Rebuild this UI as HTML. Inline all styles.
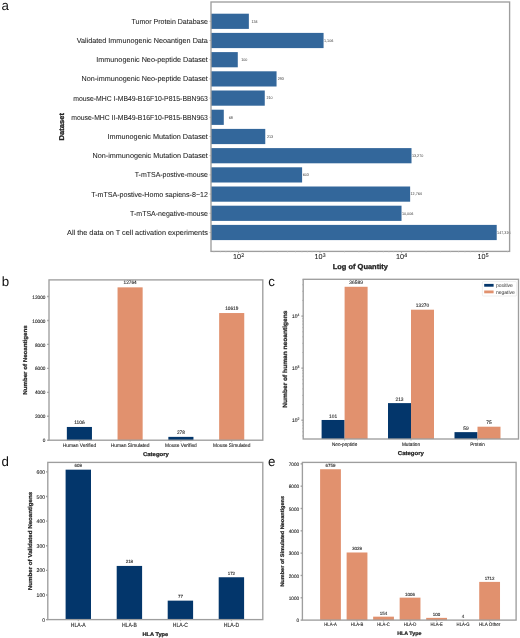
<!DOCTYPE html>
<html><head><meta charset="utf-8"><style>
html,body{margin:0;padding:0;background:#fff;}
body{width:520px;height:638px;overflow:hidden;}
svg{display:block;font-family:"Liberation Sans",sans-serif;text-rendering:geometricPrecision;will-change:transform;filter:blur(0.35px);}
</style></head><body>
<svg width="520" height="638" viewBox="0 0 520 638">
<rect x="0" y="0" width="520" height="638" fill="#fff"/>
<text x="1.5" y="10.2" font-size="13.3" fill="#111">a</text>
<text x="1.8" y="286.0" font-size="13.3" fill="#111">b</text>
<text x="268.3" y="286.3" font-size="13.3" fill="#111">c</text>
<text x="1.5" y="465.6" font-size="13.3" fill="#111">d</text>
<text x="268.0" y="465.7" font-size="13.3" fill="#111">e</text>
<rect x="211.00" y="13.70" width="37.86" height="15.20" fill="#33679b" />
<text x="207.90" y="23.70" font-size="7.25" font-weight="normal" text-anchor="end" textLength="76.33" lengthAdjust="spacingAndGlyphs" fill="#222" stroke="#222" stroke-width="0.06">Tumor Protein Database</text>
<line x1="209.30" y1="21.30" x2="211.00" y2="21.30" stroke="#b5b5b5" stroke-width="0.8"/>
<text x="251.41" y="22.50" font-size="3.90" font-weight="normal" text-anchor="start" textLength="6.20" lengthAdjust="spacingAndGlyphs" fill="#3a3a3a" stroke="#3a3a3a" stroke-width="0">134</text>
<rect x="211.00" y="32.90" width="112.57" height="15.20" fill="#33679b" />
<text x="207.90" y="42.90" font-size="7.25" font-weight="normal" text-anchor="end" textLength="131.11" lengthAdjust="spacingAndGlyphs" fill="#222" stroke="#222" stroke-width="0.06">Validated Immunogenic Neoantigen Data</text>
<line x1="209.30" y1="40.50" x2="211.00" y2="40.50" stroke="#b5b5b5" stroke-width="0.8"/>
<text x="323.97" y="41.70" font-size="3.90" font-weight="normal" text-anchor="start" textLength="9.30" lengthAdjust="spacingAndGlyphs" fill="#3a3a3a" stroke="#3a3a3a" stroke-width="0">1,106</text>
<rect x="211.00" y="52.10" width="26.78" height="15.20" fill="#33679b" />
<text x="207.90" y="62.10" font-size="7.25" font-weight="normal" text-anchor="end" textLength="111.59" lengthAdjust="spacingAndGlyphs" fill="#222" stroke="#222" stroke-width="0.06">Immunogenic Neo-peptide Dataset</text>
<line x1="209.30" y1="59.70" x2="211.00" y2="59.70" stroke="#b5b5b5" stroke-width="0.8"/>
<text x="241.22" y="60.90" font-size="3.90" font-weight="normal" text-anchor="start" textLength="6.20" lengthAdjust="spacingAndGlyphs" fill="#3a3a3a" stroke="#3a3a3a" stroke-width="0">100</text>
<rect x="211.00" y="71.30" width="65.55" height="15.20" fill="#33679b" />
<text x="207.90" y="81.30" font-size="7.25" font-weight="normal" text-anchor="end" textLength="126.45" lengthAdjust="spacingAndGlyphs" fill="#222" stroke="#222" stroke-width="0.06">Non-immunogenic Neo-peptide Dataset</text>
<line x1="209.30" y1="78.90" x2="211.00" y2="78.90" stroke="#b5b5b5" stroke-width="0.8"/>
<text x="277.74" y="80.10" font-size="3.90" font-weight="normal" text-anchor="start" textLength="6.20" lengthAdjust="spacingAndGlyphs" fill="#3a3a3a" stroke="#3a3a3a" stroke-width="0">293</text>
<rect x="211.00" y="90.50" width="53.76" height="15.20" fill="#33679b" />
<text x="207.90" y="100.50" font-size="7.25" font-weight="normal" text-anchor="end" textLength="134.72" lengthAdjust="spacingAndGlyphs" fill="#222" stroke="#222" stroke-width="0.06">mouse-MHC I-MB49-B16F10-P815-BBN963</text>
<line x1="209.30" y1="98.10" x2="211.00" y2="98.10" stroke="#b5b5b5" stroke-width="0.8"/>
<text x="266.41" y="99.30" font-size="3.90" font-weight="normal" text-anchor="start" textLength="6.20" lengthAdjust="spacingAndGlyphs" fill="#3a3a3a" stroke="#3a3a3a" stroke-width="0">210</text>
<rect x="211.00" y="109.70" width="12.79" height="15.20" fill="#33679b" />
<text x="207.90" y="119.70" font-size="7.25" font-weight="normal" text-anchor="end" textLength="136.60" lengthAdjust="spacingAndGlyphs" fill="#222" stroke="#222" stroke-width="0.06">mouse-MHC II-MB49-B16F10-P815-BBN963</text>
<line x1="209.30" y1="117.30" x2="211.00" y2="117.30" stroke="#b5b5b5" stroke-width="0.8"/>
<text x="228.79" y="118.50" font-size="3.90" font-weight="normal" text-anchor="start" textLength="4.14" lengthAdjust="spacingAndGlyphs" fill="#3a3a3a" stroke="#3a3a3a" stroke-width="0">68</text>
<rect x="211.00" y="128.90" width="54.26" height="15.20" fill="#33679b" />
<text x="207.90" y="138.90" font-size="7.25" font-weight="normal" text-anchor="end" textLength="100.50" lengthAdjust="spacingAndGlyphs" fill="#222" stroke="#222" stroke-width="0.06">Immunogenic Mutation Dataset</text>
<line x1="209.30" y1="136.50" x2="211.00" y2="136.50" stroke="#b5b5b5" stroke-width="0.8"/>
<text x="266.89" y="137.70" font-size="3.90" font-weight="normal" text-anchor="start" textLength="6.20" lengthAdjust="spacingAndGlyphs" fill="#3a3a3a" stroke="#3a3a3a" stroke-width="0">213</text>
<rect x="211.00" y="148.10" width="200.51" height="15.20" fill="#33679b" />
<text x="207.90" y="158.10" font-size="7.25" font-weight="normal" text-anchor="end" textLength="115.37" lengthAdjust="spacingAndGlyphs" fill="#222" stroke="#222" stroke-width="0.06">Non-immunogenic Mutation Dataset</text>
<line x1="209.30" y1="155.70" x2="211.00" y2="155.70" stroke="#b5b5b5" stroke-width="0.8"/>
<text x="411.91" y="156.90" font-size="3.90" font-weight="normal" text-anchor="start" textLength="11.37" lengthAdjust="spacingAndGlyphs" fill="#3a3a3a" stroke="#3a3a3a" stroke-width="0">13,270</text>
<rect x="211.00" y="167.30" width="91.10" height="15.20" fill="#33679b" />
<text x="207.90" y="177.30" font-size="7.25" font-weight="normal" text-anchor="end" textLength="73.15" lengthAdjust="spacingAndGlyphs" fill="#222" stroke="#222" stroke-width="0.06">T-mTSA-postive-mouse</text>
<line x1="209.30" y1="174.90" x2="211.00" y2="174.90" stroke="#b5b5b5" stroke-width="0.8"/>
<text x="302.68" y="176.10" font-size="3.90" font-weight="normal" text-anchor="start" textLength="6.20" lengthAdjust="spacingAndGlyphs" fill="#3a3a3a" stroke="#3a3a3a" stroke-width="0">603</text>
<rect x="211.00" y="186.50" width="199.14" height="15.20" fill="#33679b" />
<text x="207.90" y="196.50" font-size="7.25" font-weight="normal" text-anchor="end" textLength="116.63" lengthAdjust="spacingAndGlyphs" fill="#222" stroke="#222" stroke-width="0.06">T-mTSA-postive-Homo sapiens-8~12</text>
<line x1="209.30" y1="194.10" x2="211.00" y2="194.10" stroke="#b5b5b5" stroke-width="0.8"/>
<text x="410.54" y="195.30" font-size="3.90" font-weight="normal" text-anchor="start" textLength="11.37" lengthAdjust="spacingAndGlyphs" fill="#3a3a3a" stroke="#3a3a3a" stroke-width="0">12,764</text>
<rect x="211.00" y="205.70" width="190.52" height="15.20" fill="#33679b" />
<text x="207.90" y="215.70" font-size="7.25" font-weight="normal" text-anchor="end" textLength="77.79" lengthAdjust="spacingAndGlyphs" fill="#222" stroke="#222" stroke-width="0.06">T-mTSA-negative-mouse</text>
<line x1="209.30" y1="213.30" x2="211.00" y2="213.30" stroke="#b5b5b5" stroke-width="0.8"/>
<text x="401.92" y="214.50" font-size="3.90" font-weight="normal" text-anchor="start" textLength="11.37" lengthAdjust="spacingAndGlyphs" fill="#3a3a3a" stroke="#3a3a3a" stroke-width="0">10,006</text>
<rect x="211.00" y="224.90" width="285.71" height="15.20" fill="#33679b" />
<text x="207.90" y="234.90" font-size="7.25" font-weight="normal" text-anchor="end" textLength="140.89" lengthAdjust="spacingAndGlyphs" fill="#222" stroke="#222" stroke-width="0.06">All the data on T cell activation experiments</text>
<line x1="209.30" y1="232.50" x2="211.00" y2="232.50" stroke="#b5b5b5" stroke-width="0.8"/>
<text x="497.11" y="233.70" font-size="3.90" font-weight="normal" text-anchor="start" textLength="13.44" lengthAdjust="spacingAndGlyphs" fill="#3a3a3a" stroke="#3a3a3a" stroke-width="0">147,326</text>
<rect x="211.00" y="2.00" width="298.60" height="249.40" fill="none" stroke="#9e9e9e" stroke-width="1.35"/>
<line x1="238.50" y1="251.40" x2="238.50" y2="253.20" stroke="#9e9e9e" stroke-width="0.8"/>
<text x="233.04" y="258.80" font-size="7.25" font-weight="normal" text-anchor="start" textLength="8.09" lengthAdjust="spacingAndGlyphs" fill="#222" stroke="#222" stroke-width="0.06">10</text>
<text x="241.13" y="256.51" font-size="5.34" font-weight="normal" text-anchor="start" textLength="2.83" lengthAdjust="spacingAndGlyphs" fill="#222" stroke="#222" stroke-width="0.1">2</text>
<line x1="320.00" y1="251.40" x2="320.00" y2="253.20" stroke="#9e9e9e" stroke-width="0.8"/>
<text x="314.54" y="258.80" font-size="7.25" font-weight="normal" text-anchor="start" textLength="8.09" lengthAdjust="spacingAndGlyphs" fill="#222" stroke="#222" stroke-width="0.06">10</text>
<text x="322.63" y="256.51" font-size="5.34" font-weight="normal" text-anchor="start" textLength="2.83" lengthAdjust="spacingAndGlyphs" fill="#222" stroke="#222" stroke-width="0.1">3</text>
<line x1="401.50" y1="251.40" x2="401.50" y2="253.20" stroke="#9e9e9e" stroke-width="0.8"/>
<text x="396.04" y="258.80" font-size="7.25" font-weight="normal" text-anchor="start" textLength="8.09" lengthAdjust="spacingAndGlyphs" fill="#222" stroke="#222" stroke-width="0.06">10</text>
<text x="404.13" y="256.51" font-size="5.34" font-weight="normal" text-anchor="start" textLength="2.83" lengthAdjust="spacingAndGlyphs" fill="#222" stroke="#222" stroke-width="0.1">4</text>
<line x1="483.00" y1="251.40" x2="483.00" y2="253.20" stroke="#9e9e9e" stroke-width="0.8"/>
<text x="477.54" y="258.80" font-size="7.25" font-weight="normal" text-anchor="start" textLength="8.09" lengthAdjust="spacingAndGlyphs" fill="#222" stroke="#222" stroke-width="0.06">10</text>
<text x="485.63" y="256.51" font-size="5.34" font-weight="normal" text-anchor="start" textLength="2.83" lengthAdjust="spacingAndGlyphs" fill="#222" stroke="#222" stroke-width="0.1">5</text>
<line x1="213.97" y1="251.40" x2="213.97" y2="252.60" stroke="#cfcfcf" stroke-width="0.5"/>
<line x1="220.42" y1="251.40" x2="220.42" y2="252.60" stroke="#cfcfcf" stroke-width="0.5"/>
<line x1="225.88" y1="251.40" x2="225.88" y2="252.60" stroke="#cfcfcf" stroke-width="0.5"/>
<line x1="230.60" y1="251.40" x2="230.60" y2="252.60" stroke="#cfcfcf" stroke-width="0.5"/>
<line x1="234.77" y1="251.40" x2="234.77" y2="252.60" stroke="#cfcfcf" stroke-width="0.5"/>
<line x1="263.03" y1="251.40" x2="263.03" y2="252.60" stroke="#cfcfcf" stroke-width="0.5"/>
<line x1="277.39" y1="251.40" x2="277.39" y2="252.60" stroke="#cfcfcf" stroke-width="0.5"/>
<line x1="287.57" y1="251.40" x2="287.57" y2="252.60" stroke="#cfcfcf" stroke-width="0.5"/>
<line x1="295.47" y1="251.40" x2="295.47" y2="252.60" stroke="#cfcfcf" stroke-width="0.5"/>
<line x1="301.92" y1="251.40" x2="301.92" y2="252.60" stroke="#cfcfcf" stroke-width="0.5"/>
<line x1="307.38" y1="251.40" x2="307.38" y2="252.60" stroke="#cfcfcf" stroke-width="0.5"/>
<line x1="312.10" y1="251.40" x2="312.10" y2="252.60" stroke="#cfcfcf" stroke-width="0.5"/>
<line x1="316.27" y1="251.40" x2="316.27" y2="252.60" stroke="#cfcfcf" stroke-width="0.5"/>
<line x1="344.53" y1="251.40" x2="344.53" y2="252.60" stroke="#cfcfcf" stroke-width="0.5"/>
<line x1="358.89" y1="251.40" x2="358.89" y2="252.60" stroke="#cfcfcf" stroke-width="0.5"/>
<line x1="369.07" y1="251.40" x2="369.07" y2="252.60" stroke="#cfcfcf" stroke-width="0.5"/>
<line x1="376.97" y1="251.40" x2="376.97" y2="252.60" stroke="#cfcfcf" stroke-width="0.5"/>
<line x1="383.42" y1="251.40" x2="383.42" y2="252.60" stroke="#cfcfcf" stroke-width="0.5"/>
<line x1="388.88" y1="251.40" x2="388.88" y2="252.60" stroke="#cfcfcf" stroke-width="0.5"/>
<line x1="393.60" y1="251.40" x2="393.60" y2="252.60" stroke="#cfcfcf" stroke-width="0.5"/>
<line x1="397.77" y1="251.40" x2="397.77" y2="252.60" stroke="#cfcfcf" stroke-width="0.5"/>
<line x1="426.03" y1="251.40" x2="426.03" y2="252.60" stroke="#cfcfcf" stroke-width="0.5"/>
<line x1="440.39" y1="251.40" x2="440.39" y2="252.60" stroke="#cfcfcf" stroke-width="0.5"/>
<line x1="450.57" y1="251.40" x2="450.57" y2="252.60" stroke="#cfcfcf" stroke-width="0.5"/>
<line x1="458.47" y1="251.40" x2="458.47" y2="252.60" stroke="#cfcfcf" stroke-width="0.5"/>
<line x1="464.92" y1="251.40" x2="464.92" y2="252.60" stroke="#cfcfcf" stroke-width="0.5"/>
<line x1="470.38" y1="251.40" x2="470.38" y2="252.60" stroke="#cfcfcf" stroke-width="0.5"/>
<line x1="475.10" y1="251.40" x2="475.10" y2="252.60" stroke="#cfcfcf" stroke-width="0.5"/>
<line x1="479.27" y1="251.40" x2="479.27" y2="252.60" stroke="#cfcfcf" stroke-width="0.5"/>
<line x1="507.53" y1="251.40" x2="507.53" y2="252.60" stroke="#cfcfcf" stroke-width="0.5"/>
<text x="360.30" y="268.50" font-size="7.18" font-weight="bold" text-anchor="middle" textLength="55.17" lengthAdjust="spacingAndGlyphs" fill="#222" stroke="#222" stroke-width="0.3">Log of Quantity</text>
<text x="64.10" y="126.70" font-size="7.07" font-weight="bold" text-anchor="middle" textLength="27.34" lengthAdjust="spacingAndGlyphs" fill="#222" stroke="#222" stroke-width="0.3" transform="rotate(-90 64.10 126.70)">Dataset</text>
<rect x="66.85" y="426.96" width="25.10" height="13.24" fill="#03366b" />
<text x="79.40" y="423.86" font-size="4.94" font-weight="normal" text-anchor="middle" textLength="10.49" lengthAdjust="spacingAndGlyphs" fill="#222" stroke="#222" stroke-width="0.1">1106</text>
<line x1="79.40" y1="440.20" x2="79.40" y2="441.70" stroke="#9e9e9e" stroke-width="0.8"/>
<text x="79.40" y="446.70" font-size="5.20" font-weight="normal" text-anchor="middle" textLength="33.41" lengthAdjust="spacingAndGlyphs" fill="#222" stroke="#222" stroke-width="0.1">Human Verified</text>
<rect x="117.55" y="287.35" width="25.10" height="152.85" fill="#e1916e" />
<text x="130.10" y="284.25" font-size="4.94" font-weight="normal" text-anchor="middle" textLength="13.11" lengthAdjust="spacingAndGlyphs" fill="#222" stroke="#222" stroke-width="0.1">12764</text>
<line x1="130.10" y1="440.20" x2="130.10" y2="441.70" stroke="#9e9e9e" stroke-width="0.8"/>
<text x="130.10" y="446.70" font-size="5.20" font-weight="normal" text-anchor="middle" textLength="38.87" lengthAdjust="spacingAndGlyphs" fill="#222" stroke="#222" stroke-width="0.1">Human Simulated</text>
<rect x="168.35" y="436.87" width="25.10" height="3.33" fill="#03366b" />
<text x="180.90" y="433.77" font-size="4.94" font-weight="normal" text-anchor="middle" textLength="7.86" lengthAdjust="spacingAndGlyphs" fill="#222" stroke="#222" stroke-width="0.1">278</text>
<line x1="180.90" y1="440.20" x2="180.90" y2="441.70" stroke="#9e9e9e" stroke-width="0.8"/>
<text x="180.90" y="446.70" font-size="5.20" font-weight="normal" text-anchor="middle" textLength="31.84" lengthAdjust="spacingAndGlyphs" fill="#222" stroke="#222" stroke-width="0.1">Mouse Verified</text>
<rect x="219.15" y="313.04" width="25.10" height="127.16" fill="#e1916e" />
<text x="231.70" y="309.94" font-size="4.94" font-weight="normal" text-anchor="middle" textLength="13.11" lengthAdjust="spacingAndGlyphs" fill="#222" stroke="#222" stroke-width="0.1">10619</text>
<line x1="231.70" y1="440.20" x2="231.70" y2="441.70" stroke="#9e9e9e" stroke-width="0.8"/>
<text x="231.70" y="446.70" font-size="5.20" font-weight="normal" text-anchor="middle" textLength="37.31" lengthAdjust="spacingAndGlyphs" fill="#222" stroke="#222" stroke-width="0.1">Mouse Simulated</text>
<rect x="49.00" y="279.90" width="213.80" height="160.30" fill="none" stroke="#9e9e9e" stroke-width="1.35"/>
<line x1="47.20" y1="440.20" x2="49.00" y2="440.20" stroke="#9e9e9e" stroke-width="1.35"/>
<text x="45.40" y="442.30" font-size="4.94" font-weight="normal" text-anchor="end" textLength="2.62" lengthAdjust="spacingAndGlyphs" fill="#222" stroke="#222" stroke-width="0.1">0</text>
<line x1="47.20" y1="416.25" x2="49.00" y2="416.25" stroke="#9e9e9e" stroke-width="1.35"/>
<text x="45.40" y="418.35" font-size="4.94" font-weight="normal" text-anchor="end" textLength="10.49" lengthAdjust="spacingAndGlyphs" fill="#222" stroke="#222" stroke-width="0.1">2000</text>
<line x1="47.20" y1="392.30" x2="49.00" y2="392.30" stroke="#9e9e9e" stroke-width="1.35"/>
<text x="45.40" y="394.40" font-size="4.94" font-weight="normal" text-anchor="end" textLength="10.49" lengthAdjust="spacingAndGlyphs" fill="#222" stroke="#222" stroke-width="0.1">4000</text>
<line x1="47.20" y1="368.35" x2="49.00" y2="368.35" stroke="#9e9e9e" stroke-width="1.35"/>
<text x="45.40" y="370.45" font-size="4.94" font-weight="normal" text-anchor="end" textLength="10.49" lengthAdjust="spacingAndGlyphs" fill="#222" stroke="#222" stroke-width="0.1">6000</text>
<line x1="47.20" y1="344.40" x2="49.00" y2="344.40" stroke="#9e9e9e" stroke-width="1.35"/>
<text x="45.40" y="346.50" font-size="4.94" font-weight="normal" text-anchor="end" textLength="10.49" lengthAdjust="spacingAndGlyphs" fill="#222" stroke="#222" stroke-width="0.1">8000</text>
<line x1="47.20" y1="320.45" x2="49.00" y2="320.45" stroke="#9e9e9e" stroke-width="1.35"/>
<text x="45.40" y="322.55" font-size="4.94" font-weight="normal" text-anchor="end" textLength="13.11" lengthAdjust="spacingAndGlyphs" fill="#222" stroke="#222" stroke-width="0.1">10000</text>
<line x1="47.20" y1="296.50" x2="49.00" y2="296.50" stroke="#9e9e9e" stroke-width="1.35"/>
<text x="45.40" y="298.60" font-size="4.94" font-weight="normal" text-anchor="end" textLength="13.11" lengthAdjust="spacingAndGlyphs" fill="#222" stroke="#222" stroke-width="0.1">12000</text>
<text x="155.90" y="456.00" font-size="5.53" font-weight="bold" text-anchor="middle" textLength="25.72" lengthAdjust="spacingAndGlyphs" fill="#222" stroke="#222" stroke-width="0.22">Category</text>
<text x="26.70" y="360.05" font-size="5.70" font-weight="bold" text-anchor="middle" textLength="69.45" lengthAdjust="spacingAndGlyphs" fill="#222" stroke="#222" stroke-width="0.22" transform="rotate(-90 26.70 360.05)">Number of Neoantigens</text>
<rect x="321.60" y="419.98" width="23.00" height="19.02" fill="#03366b" />
<rect x="344.60" y="286.78" width="23.00" height="152.22" fill="#e1916e" />
<text x="333.10" y="417.68" font-size="5.09" font-weight="normal" text-anchor="middle" textLength="8.09" lengthAdjust="spacingAndGlyphs" fill="#222" stroke="#222" stroke-width="0.1">101</text>
<text x="356.10" y="284.48" font-size="5.09" font-weight="normal" text-anchor="middle" textLength="13.49" lengthAdjust="spacingAndGlyphs" fill="#222" stroke="#222" stroke-width="0.1">36589</text>
<line x1="344.60" y1="439.00" x2="344.60" y2="440.50" stroke="#9e9e9e" stroke-width="0.8"/>
<text x="344.60" y="446.10" font-size="4.92" font-weight="normal" text-anchor="middle" textLength="25.25" lengthAdjust="spacingAndGlyphs" fill="#222" stroke="#222" stroke-width="0.1">Neo-peptide</text>
<rect x="388.00" y="403.11" width="23.00" height="35.89" fill="#03366b" />
<rect x="411.00" y="309.70" width="23.00" height="129.30" fill="#e1916e" />
<text x="399.50" y="400.81" font-size="5.09" font-weight="normal" text-anchor="middle" textLength="8.09" lengthAdjust="spacingAndGlyphs" fill="#222" stroke="#222" stroke-width="0.1">213</text>
<text x="422.50" y="307.40" font-size="5.09" font-weight="normal" text-anchor="middle" textLength="13.49" lengthAdjust="spacingAndGlyphs" fill="#222" stroke="#222" stroke-width="0.1">13270</text>
<line x1="411.00" y1="439.00" x2="411.00" y2="440.50" stroke="#9e9e9e" stroke-width="0.8"/>
<text x="411.00" y="446.10" font-size="4.92" font-weight="normal" text-anchor="middle" textLength="18.11" lengthAdjust="spacingAndGlyphs" fill="#222" stroke="#222" stroke-width="0.1">Mutation</text>
<rect x="454.50" y="432.13" width="23.00" height="6.87" fill="#03366b" />
<rect x="477.50" y="426.70" width="23.00" height="12.30" fill="#e1916e" />
<text x="466.00" y="429.83" font-size="5.09" font-weight="normal" text-anchor="middle" textLength="5.40" lengthAdjust="spacingAndGlyphs" fill="#222" stroke="#222" stroke-width="0.1">59</text>
<text x="489.00" y="424.40" font-size="5.09" font-weight="normal" text-anchor="middle" textLength="5.40" lengthAdjust="spacingAndGlyphs" fill="#222" stroke="#222" stroke-width="0.1">75</text>
<line x1="477.50" y1="439.00" x2="477.50" y2="440.50" stroke="#9e9e9e" stroke-width="0.8"/>
<text x="477.50" y="446.10" font-size="4.92" font-weight="normal" text-anchor="middle" textLength="14.37" lengthAdjust="spacingAndGlyphs" fill="#222" stroke="#222" stroke-width="0.1">Protein</text>
<rect x="303.20" y="279.30" width="215.30" height="159.70" fill="none" stroke="#9e9e9e" stroke-width="1.35"/>
<line x1="301.40" y1="420.20" x2="303.20" y2="420.20" stroke="#9e9e9e" stroke-width="1.35"/>
<text x="292.11" y="421.80" font-size="5.16" font-weight="normal" text-anchor="start" textLength="5.47" lengthAdjust="spacingAndGlyphs" fill="#222" stroke="#222" stroke-width="0.1">10</text>
<text x="297.58" y="420.25" font-size="3.61" font-weight="normal" text-anchor="start" textLength="1.92" lengthAdjust="spacingAndGlyphs" fill="#222" stroke="#222" stroke-width="0.1">2</text>
<line x1="301.40" y1="368.15" x2="303.20" y2="368.15" stroke="#9e9e9e" stroke-width="1.35"/>
<text x="292.11" y="369.75" font-size="5.16" font-weight="normal" text-anchor="start" textLength="5.47" lengthAdjust="spacingAndGlyphs" fill="#222" stroke="#222" stroke-width="0.1">10</text>
<text x="297.58" y="368.20" font-size="3.61" font-weight="normal" text-anchor="start" textLength="1.92" lengthAdjust="spacingAndGlyphs" fill="#222" stroke="#222" stroke-width="0.1">3</text>
<line x1="301.40" y1="316.10" x2="303.20" y2="316.10" stroke="#9e9e9e" stroke-width="1.35"/>
<text x="292.11" y="317.70" font-size="5.16" font-weight="normal" text-anchor="start" textLength="5.47" lengthAdjust="spacingAndGlyphs" fill="#222" stroke="#222" stroke-width="0.1">10</text>
<text x="297.58" y="316.15" font-size="3.61" font-weight="normal" text-anchor="start" textLength="1.92" lengthAdjust="spacingAndGlyphs" fill="#222" stroke="#222" stroke-width="0.1">4</text>
<line x1="302.20" y1="435.87" x2="303.20" y2="435.87" stroke="#9e9e9e" stroke-width="0.6"/>
<line x1="302.20" y1="431.75" x2="303.20" y2="431.75" stroke="#9e9e9e" stroke-width="0.6"/>
<line x1="302.20" y1="428.26" x2="303.20" y2="428.26" stroke="#9e9e9e" stroke-width="0.6"/>
<line x1="302.20" y1="425.24" x2="303.20" y2="425.24" stroke="#9e9e9e" stroke-width="0.6"/>
<line x1="302.20" y1="422.58" x2="303.20" y2="422.58" stroke="#9e9e9e" stroke-width="0.6"/>
<line x1="302.20" y1="404.53" x2="303.20" y2="404.53" stroke="#9e9e9e" stroke-width="0.6"/>
<line x1="302.20" y1="395.37" x2="303.20" y2="395.37" stroke="#9e9e9e" stroke-width="0.6"/>
<line x1="302.20" y1="388.86" x2="303.20" y2="388.86" stroke="#9e9e9e" stroke-width="0.6"/>
<line x1="302.20" y1="383.82" x2="303.20" y2="383.82" stroke="#9e9e9e" stroke-width="0.6"/>
<line x1="302.20" y1="379.70" x2="303.20" y2="379.70" stroke="#9e9e9e" stroke-width="0.6"/>
<line x1="302.20" y1="376.21" x2="303.20" y2="376.21" stroke="#9e9e9e" stroke-width="0.6"/>
<line x1="302.20" y1="373.19" x2="303.20" y2="373.19" stroke="#9e9e9e" stroke-width="0.6"/>
<line x1="302.20" y1="370.53" x2="303.20" y2="370.53" stroke="#9e9e9e" stroke-width="0.6"/>
<line x1="302.20" y1="352.48" x2="303.20" y2="352.48" stroke="#9e9e9e" stroke-width="0.6"/>
<line x1="302.20" y1="343.32" x2="303.20" y2="343.32" stroke="#9e9e9e" stroke-width="0.6"/>
<line x1="302.20" y1="336.81" x2="303.20" y2="336.81" stroke="#9e9e9e" stroke-width="0.6"/>
<line x1="302.20" y1="331.77" x2="303.20" y2="331.77" stroke="#9e9e9e" stroke-width="0.6"/>
<line x1="302.20" y1="327.65" x2="303.20" y2="327.65" stroke="#9e9e9e" stroke-width="0.6"/>
<line x1="302.20" y1="324.16" x2="303.20" y2="324.16" stroke="#9e9e9e" stroke-width="0.6"/>
<line x1="302.20" y1="321.14" x2="303.20" y2="321.14" stroke="#9e9e9e" stroke-width="0.6"/>
<line x1="302.20" y1="318.48" x2="303.20" y2="318.48" stroke="#9e9e9e" stroke-width="0.6"/>
<line x1="302.20" y1="300.43" x2="303.20" y2="300.43" stroke="#9e9e9e" stroke-width="0.6"/>
<line x1="302.20" y1="291.27" x2="303.20" y2="291.27" stroke="#9e9e9e" stroke-width="0.6"/>
<line x1="302.20" y1="284.76" x2="303.20" y2="284.76" stroke="#9e9e9e" stroke-width="0.6"/>
<line x1="302.20" y1="279.72" x2="303.20" y2="279.72" stroke="#9e9e9e" stroke-width="0.6"/>
<rect x="482.4" y="281.6" width="34.2" height="14.4" fill="#fff" stroke="#e4e4e4" stroke-width="0.6" rx="1"/>
<rect x="484.20" y="283.90" width="9.40" height="2.80" fill="#03366b" />
<rect x="484.20" y="290.50" width="9.40" height="2.80" fill="#e1916e" />
<text x="496.00" y="287.00" font-size="5.16" font-weight="normal" text-anchor="start" textLength="16.87" lengthAdjust="spacingAndGlyphs" fill="#333" stroke="#333" stroke-width="0">positive</text>
<text x="496.00" y="293.60" font-size="5.16" font-weight="normal" text-anchor="start" textLength="18.81" lengthAdjust="spacingAndGlyphs" fill="#333" stroke="#333" stroke-width="0">negative</text>
<text x="410.85" y="455.40" font-size="5.61" font-weight="bold" text-anchor="middle" textLength="26.08" lengthAdjust="spacingAndGlyphs" fill="#222" stroke="#222" stroke-width="0.22">Category</text>
<text x="286.90" y="359.15" font-size="6.11" font-weight="bold" text-anchor="middle" textLength="97.03" lengthAdjust="spacingAndGlyphs" fill="#222" stroke="#222" stroke-width="0.22" transform="rotate(-90 286.90 359.15)">Number of human neoantigens</text>
<rect x="65.60" y="469.66" width="25.40" height="149.94" fill="#03366b" />
<text x="78.30" y="467.06" font-size="4.68" font-weight="normal" text-anchor="middle" textLength="7.44" lengthAdjust="spacingAndGlyphs" fill="#222" stroke="#222" stroke-width="0.1">609</text>
<line x1="78.30" y1="619.60" x2="78.30" y2="621.10" stroke="#9e9e9e" stroke-width="0.8"/>
<text x="78.30" y="627.30" font-size="5.94" font-weight="normal" text-anchor="middle" textLength="14.93" lengthAdjust="spacingAndGlyphs" fill="#222" stroke="#222" stroke-width="0.1">HLA-A</text>
<rect x="116.70" y="565.93" width="25.40" height="53.67" fill="#03366b" />
<text x="129.40" y="563.33" font-size="4.68" font-weight="normal" text-anchor="middle" textLength="7.44" lengthAdjust="spacingAndGlyphs" fill="#222" stroke="#222" stroke-width="0.1">218</text>
<line x1="129.40" y1="619.60" x2="129.40" y2="621.10" stroke="#9e9e9e" stroke-width="0.8"/>
<text x="129.40" y="627.30" font-size="5.94" font-weight="normal" text-anchor="middle" textLength="14.88" lengthAdjust="spacingAndGlyphs" fill="#222" stroke="#222" stroke-width="0.1">HLA-B</text>
<rect x="167.70" y="600.64" width="25.40" height="18.96" fill="#03366b" />
<text x="180.40" y="598.04" font-size="4.68" font-weight="normal" text-anchor="middle" textLength="4.96" lengthAdjust="spacingAndGlyphs" fill="#222" stroke="#222" stroke-width="0.1">77</text>
<line x1="180.40" y1="619.60" x2="180.40" y2="621.10" stroke="#9e9e9e" stroke-width="0.8"/>
<text x="180.40" y="627.30" font-size="5.94" font-weight="normal" text-anchor="middle" textLength="15.11" lengthAdjust="spacingAndGlyphs" fill="#222" stroke="#222" stroke-width="0.1">HLA-C</text>
<rect x="218.70" y="577.25" width="25.40" height="42.35" fill="#03366b" />
<text x="231.40" y="574.65" font-size="4.68" font-weight="normal" text-anchor="middle" textLength="7.44" lengthAdjust="spacingAndGlyphs" fill="#222" stroke="#222" stroke-width="0.1">172</text>
<line x1="231.40" y1="619.60" x2="231.40" y2="621.10" stroke="#9e9e9e" stroke-width="0.8"/>
<text x="231.40" y="627.30" font-size="5.94" font-weight="normal" text-anchor="middle" textLength="15.47" lengthAdjust="spacingAndGlyphs" fill="#222" stroke="#222" stroke-width="0.1">HLA-D</text>
<rect x="47.80" y="462.40" width="215.00" height="157.20" fill="none" stroke="#9e9e9e" stroke-width="1.35"/>
<line x1="46.00" y1="619.60" x2="47.80" y2="619.60" stroke="#9e9e9e" stroke-width="1.35"/>
<text x="45.00" y="621.70" font-size="5.28" font-weight="normal" text-anchor="end" textLength="2.80" lengthAdjust="spacingAndGlyphs" fill="#222" stroke="#222" stroke-width="0.1">0</text>
<line x1="46.00" y1="594.98" x2="47.80" y2="594.98" stroke="#9e9e9e" stroke-width="1.35"/>
<text x="45.00" y="597.08" font-size="5.28" font-weight="normal" text-anchor="end" textLength="8.40" lengthAdjust="spacingAndGlyphs" fill="#222" stroke="#222" stroke-width="0.1">100</text>
<line x1="46.00" y1="570.36" x2="47.80" y2="570.36" stroke="#9e9e9e" stroke-width="1.35"/>
<text x="45.00" y="572.46" font-size="5.28" font-weight="normal" text-anchor="end" textLength="8.40" lengthAdjust="spacingAndGlyphs" fill="#222" stroke="#222" stroke-width="0.1">200</text>
<line x1="46.00" y1="545.74" x2="47.80" y2="545.74" stroke="#9e9e9e" stroke-width="1.35"/>
<text x="45.00" y="547.84" font-size="5.28" font-weight="normal" text-anchor="end" textLength="8.40" lengthAdjust="spacingAndGlyphs" fill="#222" stroke="#222" stroke-width="0.1">300</text>
<line x1="46.00" y1="521.12" x2="47.80" y2="521.12" stroke="#9e9e9e" stroke-width="1.35"/>
<text x="45.00" y="523.22" font-size="5.28" font-weight="normal" text-anchor="end" textLength="8.40" lengthAdjust="spacingAndGlyphs" fill="#222" stroke="#222" stroke-width="0.1">400</text>
<line x1="46.00" y1="496.50" x2="47.80" y2="496.50" stroke="#9e9e9e" stroke-width="1.35"/>
<text x="45.00" y="498.60" font-size="5.28" font-weight="normal" text-anchor="end" textLength="8.40" lengthAdjust="spacingAndGlyphs" fill="#222" stroke="#222" stroke-width="0.1">500</text>
<line x1="46.00" y1="471.88" x2="47.80" y2="471.88" stroke="#9e9e9e" stroke-width="1.35"/>
<text x="45.00" y="473.98" font-size="5.28" font-weight="normal" text-anchor="end" textLength="8.40" lengthAdjust="spacingAndGlyphs" fill="#222" stroke="#222" stroke-width="0.1">600</text>
<text x="155.30" y="636.00" font-size="5.43" font-weight="bold" text-anchor="middle" textLength="25.72" lengthAdjust="spacingAndGlyphs" fill="#222" stroke="#222" stroke-width="0.22">HLA Type</text>
<text x="31.60" y="541.00" font-size="5.67" font-weight="bold" text-anchor="middle" textLength="98.35" lengthAdjust="spacingAndGlyphs" fill="#222" stroke="#222" stroke-width="0.22" transform="rotate(-90 31.60 541.00)">Number of Validated Neoantigens</text>
<rect x="320.10" y="469.24" width="20.80" height="150.86" fill="#e1916e" />
<text x="330.50" y="467.14" font-size="4.68" font-weight="normal" text-anchor="middle" textLength="9.93" lengthAdjust="spacingAndGlyphs" fill="#222" stroke="#222" stroke-width="0.1">6759</text>
<line x1="330.50" y1="620.10" x2="330.50" y2="621.60" stroke="#9e9e9e" stroke-width="0.8"/>
<text x="330.50" y="626.10" font-size="4.92" font-weight="normal" text-anchor="middle" textLength="12.37" lengthAdjust="spacingAndGlyphs" fill="#222" stroke="#222" stroke-width="0.1">HLA-A</text>
<rect x="346.62" y="552.49" width="20.80" height="67.61" fill="#e1916e" />
<text x="357.02" y="550.39" font-size="4.68" font-weight="normal" text-anchor="middle" textLength="9.93" lengthAdjust="spacingAndGlyphs" fill="#222" stroke="#222" stroke-width="0.1">3029</text>
<line x1="357.02" y1="620.10" x2="357.02" y2="621.60" stroke="#9e9e9e" stroke-width="0.8"/>
<text x="357.02" y="626.10" font-size="4.92" font-weight="normal" text-anchor="middle" textLength="12.32" lengthAdjust="spacingAndGlyphs" fill="#222" stroke="#222" stroke-width="0.1">HLA-B</text>
<rect x="373.14" y="616.66" width="20.80" height="3.44" fill="#e1916e" />
<text x="383.54" y="614.56" font-size="4.68" font-weight="normal" text-anchor="middle" textLength="7.44" lengthAdjust="spacingAndGlyphs" fill="#222" stroke="#222" stroke-width="0.1">154</text>
<line x1="383.54" y1="620.10" x2="383.54" y2="621.60" stroke="#9e9e9e" stroke-width="0.8"/>
<text x="383.54" y="626.10" font-size="4.92" font-weight="normal" text-anchor="middle" textLength="12.52" lengthAdjust="spacingAndGlyphs" fill="#222" stroke="#222" stroke-width="0.1">HLA-C</text>
<rect x="399.66" y="597.65" width="20.80" height="22.45" fill="#e1916e" />
<text x="410.06" y="595.55" font-size="4.68" font-weight="normal" text-anchor="middle" textLength="9.93" lengthAdjust="spacingAndGlyphs" fill="#222" stroke="#222" stroke-width="0.1">1006</text>
<line x1="410.06" y1="620.10" x2="410.06" y2="621.60" stroke="#9e9e9e" stroke-width="0.8"/>
<text x="410.06" y="626.10" font-size="4.92" font-weight="normal" text-anchor="middle" textLength="12.81" lengthAdjust="spacingAndGlyphs" fill="#222" stroke="#222" stroke-width="0.1">HLA-D</text>
<rect x="426.18" y="617.87" width="20.80" height="2.23" fill="#e1916e" />
<text x="436.58" y="615.77" font-size="4.68" font-weight="normal" text-anchor="middle" textLength="7.44" lengthAdjust="spacingAndGlyphs" fill="#222" stroke="#222" stroke-width="0.1">100</text>
<line x1="436.58" y1="620.10" x2="436.58" y2="621.60" stroke="#9e9e9e" stroke-width="0.8"/>
<text x="436.58" y="626.10" font-size="4.92" font-weight="normal" text-anchor="middle" textLength="12.25" lengthAdjust="spacingAndGlyphs" fill="#222" stroke="#222" stroke-width="0.1">HLA-E</text>
<rect x="452.70" y="620.01" width="20.80" height="0.09" fill="#e1916e" />
<text x="463.10" y="617.91" font-size="4.68" font-weight="normal" text-anchor="middle" textLength="2.48" lengthAdjust="spacingAndGlyphs" fill="#222" stroke="#222" stroke-width="0.1">4</text>
<line x1="463.10" y1="620.10" x2="463.10" y2="621.60" stroke="#9e9e9e" stroke-width="0.8"/>
<text x="463.10" y="626.10" font-size="4.92" font-weight="normal" text-anchor="middle" textLength="12.98" lengthAdjust="spacingAndGlyphs" fill="#222" stroke="#222" stroke-width="0.1">HLA-G</text>
<rect x="479.22" y="581.89" width="20.80" height="38.21" fill="#e1916e" />
<text x="489.62" y="579.79" font-size="4.68" font-weight="normal" text-anchor="middle" textLength="9.93" lengthAdjust="spacingAndGlyphs" fill="#222" stroke="#222" stroke-width="0.1">1712</text>
<line x1="489.62" y1="620.10" x2="489.62" y2="621.60" stroke="#9e9e9e" stroke-width="0.8"/>
<text x="489.62" y="626.10" font-size="4.92" font-weight="normal" text-anchor="middle" textLength="21.21" lengthAdjust="spacingAndGlyphs" fill="#222" stroke="#222" stroke-width="0.1">HLA Other</text>
<rect x="302.40" y="462.40" width="213.70" height="157.70" fill="none" stroke="#9e9e9e" stroke-width="1.35"/>
<line x1="300.60" y1="620.10" x2="302.40" y2="620.10" stroke="#9e9e9e" stroke-width="1.35"/>
<text x="299.10" y="622.20" font-size="4.86" font-weight="normal" text-anchor="end" textLength="2.58" lengthAdjust="spacingAndGlyphs" fill="#222" stroke="#222" stroke-width="0.1">0</text>
<line x1="300.60" y1="597.78" x2="302.40" y2="597.78" stroke="#9e9e9e" stroke-width="1.35"/>
<text x="299.10" y="599.88" font-size="4.86" font-weight="normal" text-anchor="end" textLength="10.31" lengthAdjust="spacingAndGlyphs" fill="#222" stroke="#222" stroke-width="0.1">1000</text>
<line x1="300.60" y1="575.46" x2="302.40" y2="575.46" stroke="#9e9e9e" stroke-width="1.35"/>
<text x="299.10" y="577.56" font-size="4.86" font-weight="normal" text-anchor="end" textLength="10.31" lengthAdjust="spacingAndGlyphs" fill="#222" stroke="#222" stroke-width="0.1">2000</text>
<line x1="300.60" y1="553.14" x2="302.40" y2="553.14" stroke="#9e9e9e" stroke-width="1.35"/>
<text x="299.10" y="555.24" font-size="4.86" font-weight="normal" text-anchor="end" textLength="10.31" lengthAdjust="spacingAndGlyphs" fill="#222" stroke="#222" stroke-width="0.1">3000</text>
<line x1="300.60" y1="530.82" x2="302.40" y2="530.82" stroke="#9e9e9e" stroke-width="1.35"/>
<text x="299.10" y="532.92" font-size="4.86" font-weight="normal" text-anchor="end" textLength="10.31" lengthAdjust="spacingAndGlyphs" fill="#222" stroke="#222" stroke-width="0.1">4000</text>
<line x1="300.60" y1="508.50" x2="302.40" y2="508.50" stroke="#9e9e9e" stroke-width="1.35"/>
<text x="299.10" y="510.60" font-size="4.86" font-weight="normal" text-anchor="end" textLength="10.31" lengthAdjust="spacingAndGlyphs" fill="#222" stroke="#222" stroke-width="0.1">5000</text>
<line x1="300.60" y1="486.18" x2="302.40" y2="486.18" stroke="#9e9e9e" stroke-width="1.35"/>
<text x="299.10" y="488.28" font-size="4.86" font-weight="normal" text-anchor="end" textLength="10.31" lengthAdjust="spacingAndGlyphs" fill="#222" stroke="#222" stroke-width="0.1">6000</text>
<line x1="300.60" y1="463.86" x2="302.40" y2="463.86" stroke="#9e9e9e" stroke-width="1.35"/>
<text x="299.10" y="465.96" font-size="4.86" font-weight="normal" text-anchor="end" textLength="10.31" lengthAdjust="spacingAndGlyphs" fill="#222" stroke="#222" stroke-width="0.1">7000</text>
<text x="409.25" y="634.80" font-size="5.12" font-weight="bold" text-anchor="middle" textLength="24.21" lengthAdjust="spacingAndGlyphs" fill="#222" stroke="#222" stroke-width="0.22">HLA Type</text>
<text x="284.10" y="541.25" font-size="5.13" font-weight="bold" text-anchor="middle" textLength="90.69" lengthAdjust="spacingAndGlyphs" fill="#222" stroke="#222" stroke-width="0.22" transform="rotate(-90 284.10 541.25)">Number of Simulated Neoantigens</text>
</svg>
</body></html>
